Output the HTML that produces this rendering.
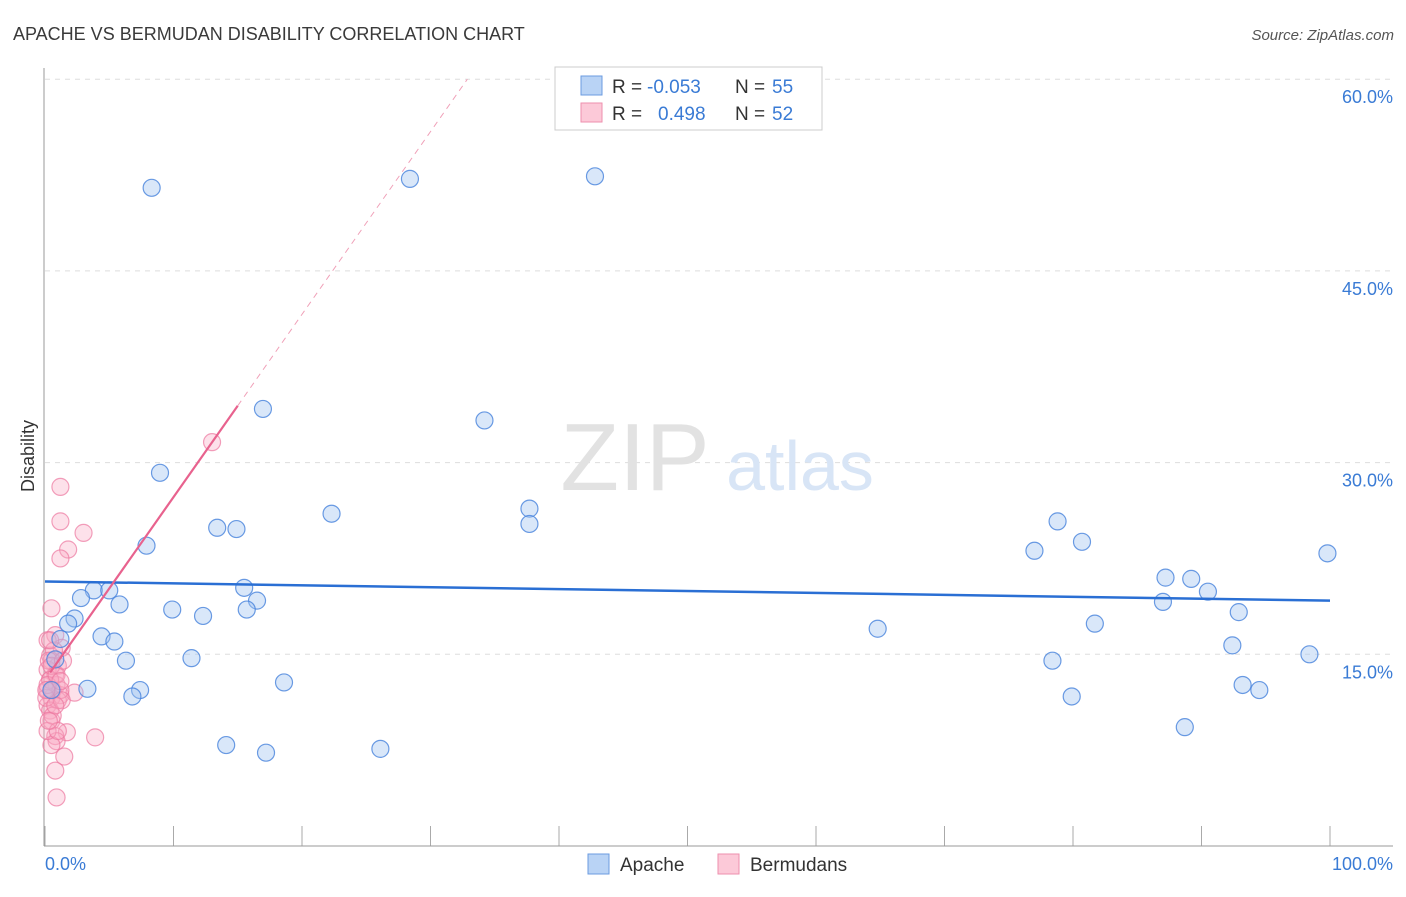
<!DOCTYPE html>
<html><head><meta charset="utf-8"><style>
body{margin:0;background:#fff;font-family:"Liberation Sans",sans-serif}
svg text{font-family:"Liberation Sans",sans-serif}
</style></head><body>
<svg width="1406" height="892">
<text x="13" y="40" font-size="18" fill="#3a3a3a">APACHE VS BERMUDAN DISABILITY CORRELATION CHART</text>
<text x="1394" y="40" font-size="15" fill="#555" font-style="italic" text-anchor="end">Source: ZipAtlas.com</text>
<g id="grid"></g>
<text x="635" y="490" font-size="96" fill="#e2e2e2" font-family="Liberation Serif" text-anchor="middle">ZIP</text>
<text x="800" y="490" font-size="70" fill="#d8e5f6" text-anchor="middle">atlas</text>
<line x1="44" y1="68" x2="44" y2="846" stroke="#999"/>
<line x1="44" y1="846" x2="1393" y2="846" stroke="#999"/>
<text x="34" y="456" font-size="18" fill="#333" text-anchor="middle" transform="rotate(-90 34 456)">Disability</text>
<text x="45" y="870" font-size="18" fill="#3a7bd5">0.0%</text>
<text x="1393" y="870" font-size="18" fill="#3a7bd5" text-anchor="end">100.0%</text>
<g id="pts"></g>
<g id="trend"></g>
<g>
<rect x="555" y="67" width="267" height="63" fill="#fff" stroke="#ccc"/>
<rect x="581" y="76" width="21" height="19" fill="#b9d3f5" stroke="#6b9be0"/>
<rect x="581" y="103" width="21" height="19" fill="#fcc9d8" stroke="#ee8fae"/>
<text x="612" y="93" font-size="19" fill="#333">R =</text>
<text x="647" y="93" font-size="19" fill="#3a7bd5">-0.053</text>
<text x="735" y="93" font-size="19" fill="#333">N =</text>
<text x="772" y="93" font-size="19" fill="#3a7bd5">55</text>
<text x="612" y="120" font-size="19" fill="#333">R =</text>
<text x="658" y="120" font-size="19" fill="#3a7bd5">0.498</text>
<text x="735" y="120" font-size="19" fill="#333">N =</text>
<text x="772" y="120" font-size="19" fill="#3a7bd5">52</text>
</g>
<g>
<rect x="588" y="854" width="21" height="20" fill="#b9d3f5" stroke="#6b9be0"/>
<text x="620" y="871" font-size="19" fill="#333">Apache</text>
<rect x="718" y="854" width="21" height="20" fill="#fcc9d8" stroke="#ee8fae"/>
<text x="750" y="871" font-size="19" fill="#333">Bermudans</text>
</g>
</svg>
<script>
const yTicks=[15,30,45,60];
const xTickVals=[0,10,20,30,40,50,60,70,80,90,100];
const apacheX=[8.3,28.4,42.8,16.96,34.2,8.95,22.3,37.7,37.7,13.4,14.9,7.9,15.5,3.8,5.0,2.8,5.8,16.5,15.7,9.9,12.3,2.3,1.8,4.4,5.4,6.3,11.4,3.3,7.4,6.8,18.6,14.1,17.2,26.1,64.8,77.0,78.8,80.7,81.7,78.4,79.9,87.2,89.2,90.5,87.0,92.9,92.4,93.2,94.5,88.7,98.4,99.8,1.2,0.8,0.5];
const apacheY=[51.5,52.2,52.4,34.2,33.3,29.2,26.0,26.4,25.2,24.9,24.8,23.5,20.2,20.0,20.0,19.4,18.9,19.2,18.5,18.5,18.0,17.8,17.4,16.4,16.0,14.5,14.7,12.3,12.2,11.7,12.8,7.9,7.3,7.6,17.0,23.1,25.4,23.8,17.4,14.5,11.7,21.0,20.9,19.9,19.1,18.3,15.7,12.6,12.2,9.3,15.0,22.9,16.2,14.6,12.2];
const bermX=[13.0,1.2,1.2,3.0,1.8,1.2,0.5,0.8,0.2,1.3,0.4,0.5,1.0,0.2,0.8,0.4,0.9,0.2,1.2,2.3,0.5,0.2,1.0,0.4,0.5,1.7,0.8,0.9,3.9,0.5,1.5,0.8,0.9,0.2,0.4,0.6,1.2,0.1,0.7,0.3,0.2,0.5,0.9,1.3,0.6,1.0,0.3,1.2,0.1,0.8,0.4,1.4];
const bermY=[31.6,28.1,25.4,24.5,23.2,22.5,18.6,16.5,16.1,15.5,14.9,14.5,14.1,13.8,13.4,13.0,12.6,12.2,11.8,12.0,11.6,11.0,11.4,10.6,9.8,8.9,8.6,8.2,8.5,7.9,7.0,5.9,3.8,9.0,13.0,12.2,12.2,11.6,15.3,14.5,12.6,14.1,13.4,11.4,10.2,9.0,9.8,12.9,12.2,11.0,16.1,14.5];
const apacheTrend=[20.7,19.2];
const bermTrend=[13.0,1.43];
const X=v=>45+v*12.85, Y=v=>846-v*12.78;
const NS='http://www.w3.org/2000/svg';
function mk(t,a,p){const e=document.createElementNS(NS,t);for(const k in a)e.setAttribute(k,a[k]);p.appendChild(e);return e;}
const g=document.getElementById('grid');
yTicks.forEach(v=>{
 const l=mk('line',{x1:45,x2:1393,y1:Y(v),y2:Y(v),stroke:'#ddd','stroke-dasharray':'5,5'},g);
 
 
 const t=mk('text',{x:1393,y:Y(v)+24,'font-size':18,fill:'#3a7bd5','text-anchor':'end'},g);
 t.textContent=v.toFixed(1)+'%';
 
 
});
xTickVals.forEach(v=>{
 const l=mk('line',{x1:X(v),x2:X(v),y1:826,y2:846,stroke:'#aaa'},g);
 
 
});
const p=document.getElementById('pts');
bermX.forEach((x,i)=>{
 const c=mk('circle',{cx:X(x),cy:Y(bermY[i]),r:8.5,fill:'rgba(248,170,195,0.35)',stroke:'rgba(236,120,160,0.7)','stroke-width':1.2},p);
 
 
});
apacheX.forEach((x,i)=>{
 const c=mk('circle',{cx:X(x),cy:Y(apacheY[i]),r:8.5,fill:'rgba(160,195,240,0.4)',stroke:'rgba(70,130,220,0.8)','stroke-width':1.2},p);
 
 
});
const tr=document.getElementById('trend');
const a=mk('line',{x1:X(0),y1:Y(apacheTrend[0]),x2:X(100),y2:Y(apacheTrend[1]),stroke:'#2a6fd4','stroke-width':2.5},tr);


const bf=x=>bermTrend[0]+bermTrend[1]*x;
const b=mk('line',{x1:X(0.4),y1:Y(bf(0.4)),x2:X(15),y2:Y(bf(15)),stroke:'#e8628e','stroke-width':2.2},tr);


const xe=(60-bermTrend[0])/bermTrend[1];
const d=mk('line',{x1:X(15),y1:Y(bf(15)),x2:X(xe),y2:Y(60),stroke:'#f0a0b8','stroke-width':1,'stroke-dasharray':'6,5'},tr);


</script>
</body></html>
